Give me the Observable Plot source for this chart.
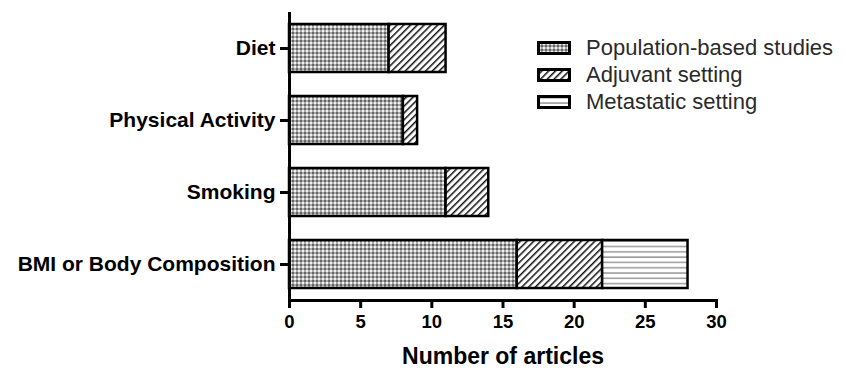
<!DOCTYPE html>
<html>
<head>
<meta charset="utf-8">
<script src="https://cdn.jsdelivr.net/npm/d3@7"></script>
<script src="https://cdn.jsdelivr.net/npm/@observablehq/plot@0.6"></script>
<style>
  body { margin: 0; background: white; }
  #wrap { position: relative; width: 846px; height: 370px; }
  #legend { position: absolute; left: 537px; top: 34px; font-family: "Liberation Sans", Arial, sans-serif; font-size: 22px; color: #2a2a2a; }
  .row { display: flex; align-items: center; height: 27px; }
  .row svg { margin-right: 15px; }
</style>
</head>
<body>
<div id="wrap"><div id="legend"></div></div>
<script>
const categories = ["Diet", "Physical Activity", "Smoking", "BMI or Body Composition"];
const series = ["Population-based studies", "Adjuvant setting", "Metastatic setting"];
const populationValues = [7, 8, 11, 16];
const adjuvantValues = [4, 1, 3, 6];
const metastaticValues = [0, 0, 0, 6];
const xTicks = [0, 5, 10, 15, 20, 25, 30];
const xLabel = "Number of articles";

const valuesBySeries = [populationValues, adjuvantValues, metastaticValues];
const data = [];
categories.forEach((c, i) => {
  series.forEach((s, j) => {
    const v = valuesBySeries[j][i];
    if (v > 0) data.push({category: c, series: s, value: v});
  });
});

const keys = ["pop", "adj", "met"];
function patternDefs(prefix) {
  return `
  <pattern id="${prefix}pop" width="4" height="4" patternUnits="userSpaceOnUse">
    <rect width="4" height="4" fill="#ababab"/>
    <rect width="2" height="2" fill="#666"/>
    <rect x="2" y="2" width="2" height="2" fill="#f0f0f0"/>
  </pattern>
  <pattern id="${prefix}adj" width="4.8" height="4.8" patternUnits="userSpaceOnUse" patternTransform="rotate(45)">
    <rect width="4.8" height="4.8" fill="white"/>
    <rect width="1.5" height="4.8" fill="#111"/>
  </pattern>
  <pattern id="${prefix}met" width="5.3" height="5.3" patternUnits="userSpaceOnUse">
    <rect width="5.3" height="5.3" fill="white"/>
    <rect y="2" width="5.3" height="1.5" fill="#9a9a9a"/>
  </pattern>`;
}

const chart = Plot.plot({
  width: 846,
  height: 370,
  marginLeft: 289,
  marginRight: 130,
  marginTop: 12,
  marginBottom: 70,
  style: {fontFamily: "'Liberation Sans', Arial, sans-serif", background: "white", color: "black"},
  x: {domain: [0, 30]},
  y: {domain: categories, paddingInner: 0.34, paddingOuter: 0.17},
  color: {type: "ordinal", domain: series, range: keys.map(k => `url(#c_${k})`)},
  marks: [
    Plot.barX(data, {x: "value", y: "category", fill: "series", stroke: "black", strokeWidth: 2.5}),
    Plot.ruleX([0], {strokeWidth: 3}),
    Plot.frame({anchor: "bottom", strokeWidth: 3}),
    Plot.axisX({ticks: xTicks, tickSize: 8, strokeWidth: 3, tickPadding: 6, fontSize: 18.5, fontWeight: "bold", label: null}),
    Plot.axisX({ticks: [], label: xLabel, labelAnchor: "center", labelArrow: "none", labelOffset: 63, fontSize: 23, fontWeight: "bold"}),
    Plot.axisY({tickSize: 9, strokeWidth: 3, tickPadding: 5, fontSize: 21, fontWeight: "bold", label: null})
  ]
});
const defs = document.createElementNS("http://www.w3.org/2000/svg", "defs");
defs.innerHTML = patternDefs("c_");
chart.insertBefore(defs, chart.firstChild);
document.getElementById("wrap").insertBefore(chart, document.getElementById("legend"));

const legend = document.getElementById("legend");
series.forEach((s, j) => {
  const row = document.createElement("div");
  row.className = "row";
  row.innerHTML = `<svg width="34" height="14"><defs>${patternDefs("l" + j + "_")}</defs>
    <rect x="1.5" y="1.5" width="31" height="11" fill="url(#l${j}_${keys[j]})" stroke="black" stroke-width="3"/></svg><span>${s}</span>`;
  legend.appendChild(row);
});
</script>
</body>
</html>
